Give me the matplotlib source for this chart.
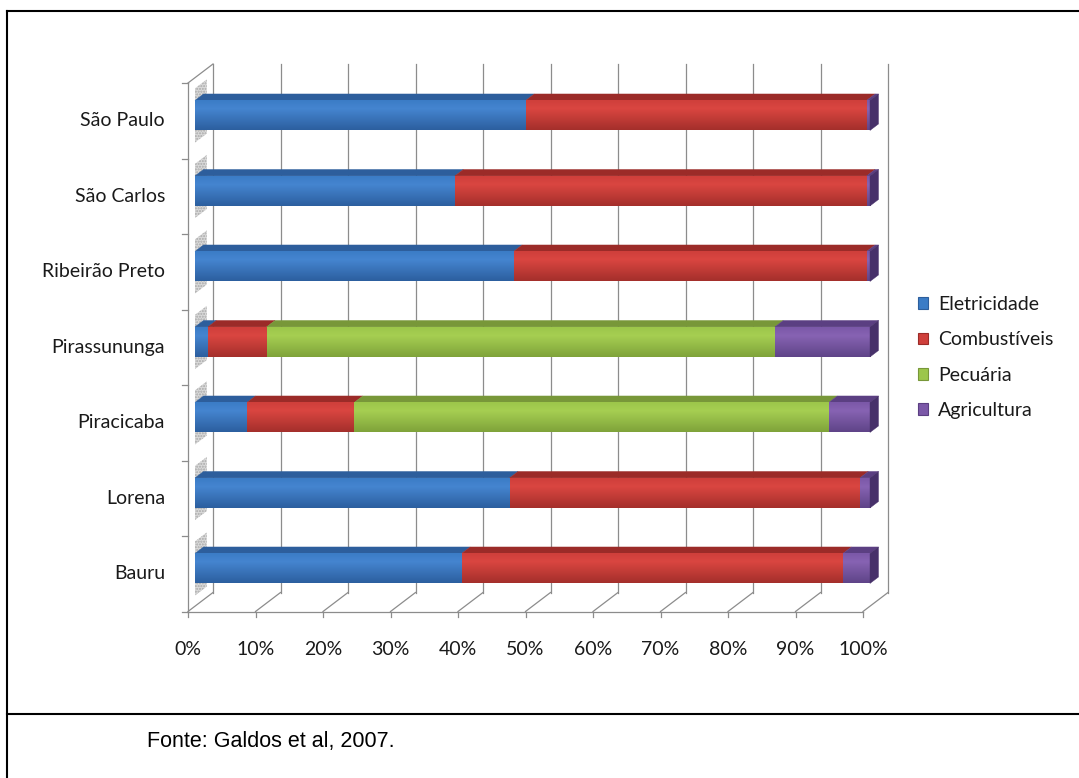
import matplotlib.pyplot as plt
import numpy as np
from matplotlib.patches import Polygon, Patch
from matplotlib.colors import LinearSegmentedColormap
from matplotlib.lines import Line2D

# share of emissions by source, per city (%)
cidades = ['Bauru', 'Lorena', 'Piracicaba', 'Pirassununga',
           'Ribeirão Preto', 'São Carlos', 'São Paulo']
eletricidade = [39.5, 46.6, 7.7, 1.9, 47.2, 38.5, 49.0]
combustiveis = [56.5, 51.9, 15.9, 8.7, 52.3, 61.0, 50.5]
pecuaria = [0.0, 0.0, 70.3, 75.3, 0.0, 0.0, 0.0]
agricultura = [4.0, 1.5, 6.1, 14.1, 0.5, 0.5, 0.5]
fontes = ['Eletricidade', 'Combustíveis', 'Pecuária', 'Agricultura']
ticks = np.arange(0, 101, 10)

# (dark bottom, light, base, top face, end face)
cores = {
    'Eletricidade': ('#2c5f9f', '#4585d0', '#3b7cc6', '#2d5e9c', '#244c80'),
    'Combustíveis': ('#a42f2b', '#da4641', '#cf3f3b', '#9b2b28', '#7e2320'),
    'Pecuária': ('#7fa33a', '#a6cf52', '#9cc64a', '#789739', '#5f7a2c'),
    'Agricultura': ('#5f4488', '#8763b3', '#7b58a8', '#5b3f82', '#47316a'),
}

W, H = 1079, 778
PX, PY = 6.75, 75.5          # pixels per percent / per category
X0, YF = 188, 611.5          # front-left corner of the floor (pixels from top-left)
DX, DY = 25 / PX, 19 / PY    # depth of the box in data units
D0, D1 = 0.28, 0.62          # depth span of the bars
BH = 30 / PY                 # bar face height
FONT = ['Lato', 'DejaVu Sans']
FS = 14

fig = plt.figure(figsize=(W / 100, H / 100), dpi=100)
ax = fig.add_axes([0, 0, 1, 1])
ax.set_axis_off()
ax.set_autoscale_on(False)
xmin = -X0 / PX
ymin = -0.5 - (H - YF) / PY
ax.set_xlim(xmin, xmin + W / PX)
ax.set_ylim(ymin, ymin + H / PY)

grid = dict(color='#8c8c8c', lw=0.9, zorder=1)
ytop = len(cidades) - 0.5
# back wall gridlines and floor
for t in ticks:
    ax.plot([t + DX, t + DX], [-0.5 + DY, ytop + DY], **grid)
    ax.plot([t, t + DX], [-0.5, -0.5 + DY], **grid)
    ax.plot([t, t], [-0.5, -0.5 - 5 / PY], **grid)
    ax.text(t, -0.5 - 38 / PY, f'{t}%', ha='center', va='center',
            fontsize=FS, family=FONT, color='#1a1a1a')
ax.plot([0, 100], [-0.5, -0.5], **grid)
# left wall
ax.plot([0, 0], [-0.5, ytop], **grid)
ax.plot([0, DX], [ytop, ytop + DY], **grid)
for k in range(len(cidades) + 1):
    ax.plot([0, -6 / PX], [k - 0.5, k - 0.5], **grid)

valores = np.array([eletricidade, combustiveis, pecuaria, agricultura])

for i, cidade in enumerate(cidades):
    ax.text(-23 / PX, i, cidade, ha='right', va='center', fontsize=FS,
            family=FONT, color='#1a1a1a')
    yc = i + D0 * DY
    yb, yt = yc - BH / 2, yc + BH / 2
    dd = D1 - D0
    # shaded patch on the side wall next to the bar
    m = 0.16
    sh = Polygon([(D0 * DX, yb - m), (0.75 * DX, yb - m + 0.47 * DY),
                  (0.75 * DX, yt + m + 0.47 * DY), (D0 * DX, yt + m)],
                 closed=True, facecolor='#dadada', edgecolor='#a8a8a8',
                 hatch='......', lw=0, zorder=2)
    ax.add_patch(sh)
    cum = 0.0
    ultimo = None
    for j, fonte in enumerate(fontes):
        v = valores[j, i]
        if v <= 0:
            continue
        escuro, claro, base, topo, lado = cores[fonte]
        xl = cum + D0 * DX
        xr = cum + v + D0 * DX
        ax.add_patch(Polygon([(xl, yt), (xr, yt), (xr + dd * DX, yt + dd * DY),
                              (xl + dd * DX, yt + dd * DY)], closed=True,
                             facecolor=topo, edgecolor=topo, lw=0.3, zorder=3))
        cmap = LinearSegmentedColormap.from_list(
            fonte, [(0, escuro), (0.72, claro), (1, base)])
        ax.imshow(np.linspace(0, 1, 64).reshape(-1, 1), cmap=cmap, origin='lower',
                  extent=[xl, xr, yb, yt], aspect='auto', interpolation='bilinear',
                  zorder=4)
        cum += v
        ultimo = (xr, lado)
    xr, lado = ultimo
    ax.add_patch(Polygon([(xr, yb), (xr, yt), (xr + dd * DX, yt + dd * DY),
                          (xr + dd * DX, yb + dd * DY)], closed=True,
                         facecolor=lado, edgecolor=lado, lw=0.3, zorder=5))

ax.set_xlim(xmin, xmin + W / PX)
ax.set_ylim(ymin, ymin + H / PY)

handles = [Patch(facecolor=cores[f][2], edgecolor=cores[f][3], lw=0.8) for f in fontes]
leg = ax.legend(handles, fontes, loc='center left', frameon=False,
                bbox_to_anchor=(910 / W, 1 - 357.5 / H), bbox_transform=fig.transFigure,
                borderaxespad=0, handlelength=0.55, handleheight=0.55,
                handletextpad=0.5, labelspacing=0.95,
                prop={'family': FONT, 'size': FS})
for txt in leg.get_texts():
    txt.set_color('#1a1a1a')

# page frame and caption
borda = dict(color='black', lw=1.5, transform=fig.transFigure)
fig.add_artist(Line2D([7 / W, 1], [1 - 11 / H, 1 - 11 / H], **borda))
fig.add_artist(Line2D([7 / W, 7 / W], [0, 1 - 11 / H], **borda))
fig.add_artist(Line2D([7 / W, 1], [1 - 714 / H, 1 - 714 / H], **borda))
fig.text(147 / W, 1 - 742 / H, 'Fonte: Galdos et al, 2007.', ha='left', va='center',
         fontsize=15.5, family=['Liberation Sans', 'DejaVu Sans'])

fig.savefig('out.png', dpi=100, facecolor='white')
